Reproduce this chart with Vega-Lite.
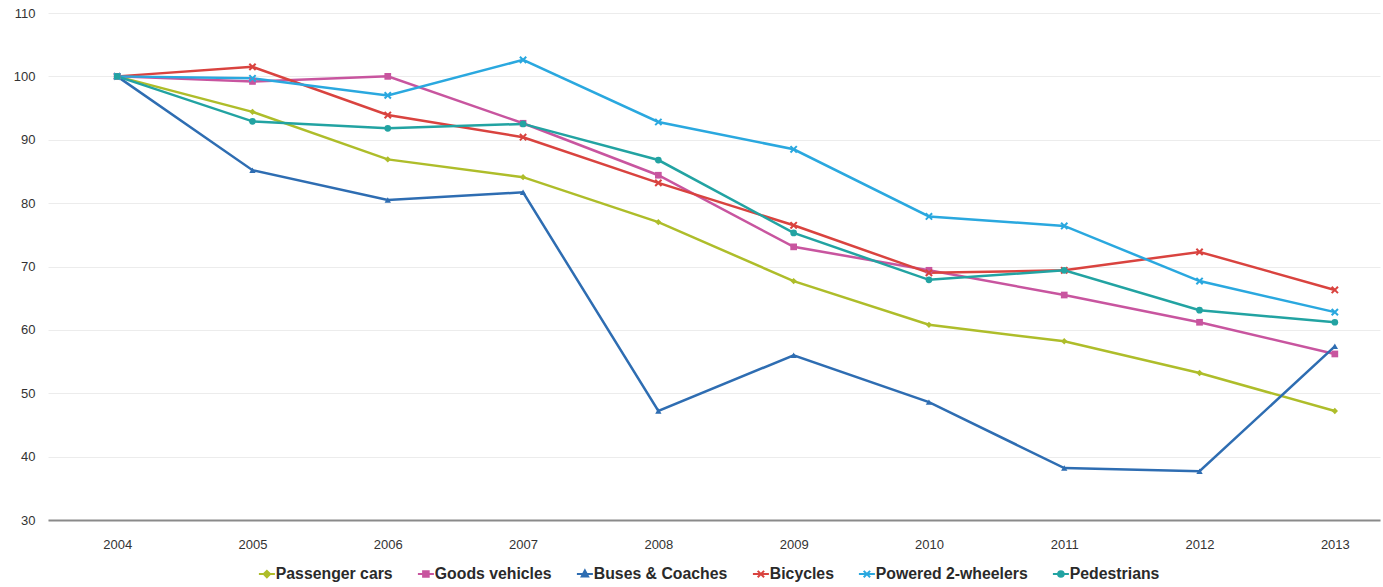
{
  "$schema": "https://vega.github.io/schema/vega-lite/v6.json",
  "autosize": {"type": "none"},
  "width": 1332,
  "height": 507,
  "padding": {"left": 48, "top": 13, "right": 3, "bottom": 67},
  "background": "white",
  "config": {
    "font": "Liberation Sans",
    "view": {"stroke": null},
    "axis": {"labelFont": "Liberation Sans", "labelFontSize": 13, "labelColor": "#333333", "ticks": false, "title": null},
    "legend": {"labelFont": "Liberation Sans", "labelFontSize": 15.8, "labelFontWeight": "bold", "labelColor": "#2a2a2a"}
  },
  "data": {
    "values": [
      {"year": "2004", "series": "Passenger cars", "value": 100},
      {"year": "2005", "series": "Passenger cars", "value": 94.4},
      {"year": "2006", "series": "Passenger cars", "value": 86.9},
      {"year": "2007", "series": "Passenger cars", "value": 84.1},
      {"year": "2008", "series": "Passenger cars", "value": 77.0},
      {"year": "2009", "series": "Passenger cars", "value": 67.7},
      {"year": "2010", "series": "Passenger cars", "value": 60.8},
      {"year": "2011", "series": "Passenger cars", "value": 58.2},
      {"year": "2012", "series": "Passenger cars", "value": 53.2},
      {"year": "2013", "series": "Passenger cars", "value": 47.2},
      {"year": "2004", "series": "Goods vehicles", "value": 100},
      {"year": "2005", "series": "Goods vehicles", "value": 99.2},
      {"year": "2006", "series": "Goods vehicles", "value": 100},
      {"year": "2007", "series": "Goods vehicles", "value": 92.6},
      {"year": "2008", "series": "Goods vehicles", "value": 84.4},
      {"year": "2009", "series": "Goods vehicles", "value": 73.1},
      {"year": "2010", "series": "Goods vehicles", "value": 69.4},
      {"year": "2011", "series": "Goods vehicles", "value": 65.5},
      {"year": "2012", "series": "Goods vehicles", "value": 61.2},
      {"year": "2013", "series": "Goods vehicles", "value": 56.2},
      {"year": "2004", "series": "Buses & Coaches", "value": 100},
      {"year": "2005", "series": "Buses & Coaches", "value": 85.2},
      {"year": "2006", "series": "Buses & Coaches", "value": 80.5},
      {"year": "2007", "series": "Buses & Coaches", "value": 81.7},
      {"year": "2008", "series": "Buses & Coaches", "value": 47.2},
      {"year": "2009", "series": "Buses & Coaches", "value": 56.0},
      {"year": "2010", "series": "Buses & Coaches", "value": 48.6},
      {"year": "2011", "series": "Buses & Coaches", "value": 38.2},
      {"year": "2012", "series": "Buses & Coaches", "value": 37.7},
      {"year": "2013", "series": "Buses & Coaches", "value": 57.4},
      {"year": "2004", "series": "Bicycles", "value": 100},
      {"year": "2005", "series": "Bicycles", "value": 101.5},
      {"year": "2006", "series": "Bicycles", "value": 93.9},
      {"year": "2007", "series": "Bicycles", "value": 90.4},
      {"year": "2008", "series": "Bicycles", "value": 83.2},
      {"year": "2009", "series": "Bicycles", "value": 76.5},
      {"year": "2010", "series": "Bicycles", "value": 69.0},
      {"year": "2011", "series": "Bicycles", "value": 69.4},
      {"year": "2012", "series": "Bicycles", "value": 72.3},
      {"year": "2013", "series": "Bicycles", "value": 66.3},
      {"year": "2004", "series": "Powered 2-wheelers", "value": 100},
      {"year": "2005", "series": "Powered 2-wheelers", "value": 99.7},
      {"year": "2006", "series": "Powered 2-wheelers", "value": 97.0},
      {"year": "2007", "series": "Powered 2-wheelers", "value": 102.6},
      {"year": "2008", "series": "Powered 2-wheelers", "value": 92.8},
      {"year": "2009", "series": "Powered 2-wheelers", "value": 88.5},
      {"year": "2010", "series": "Powered 2-wheelers", "value": 77.9},
      {"year": "2011", "series": "Powered 2-wheelers", "value": 76.4},
      {"year": "2012", "series": "Powered 2-wheelers", "value": 67.7},
      {"year": "2013", "series": "Powered 2-wheelers", "value": 62.8},
      {"year": "2004", "series": "Pedestrians", "value": 100},
      {"year": "2005", "series": "Pedestrians", "value": 92.9},
      {"year": "2006", "series": "Pedestrians", "value": 91.8},
      {"year": "2007", "series": "Pedestrians", "value": 92.5},
      {"year": "2008", "series": "Pedestrians", "value": 86.8},
      {"year": "2009", "series": "Pedestrians", "value": 75.3},
      {"year": "2010", "series": "Pedestrians", "value": 67.9},
      {"year": "2011", "series": "Pedestrians", "value": 69.4},
      {"year": "2012", "series": "Pedestrians", "value": 63.1},
      {"year": "2013", "series": "Pedestrians", "value": 61.2}
    ]
  },
  "encoding": {
    "x": {
      "field": "year", "type": "ordinal",
      "scale": {"type": "point", "padding": 0.4226, "align": 0.605},
      "axis": {"labelAngle": 0, "labelPadding": 18, "grid": false, "domain": true, "domainColor": "#8a8a8a", "domainWidth": 2}
    },
    "y": {
      "field": "value", "type": "quantitative",
      "scale": {"domain": [30, 110], "nice": false, "zero": false},
      "axis": {"values": [30, 40, 50, 60, 70, 80, 90, 100, 110], "labelPadding": 13, "domain": false, "grid": true, "gridColor": "#ececec", "gridWidth": 1}
    },
    "color": {
      "field": "series", "type": "nominal",
      "scale": {
        "domain": ["Passenger cars", "Goods vehicles", "Buses & Coaches", "Bicycles", "Powered 2-wheelers", "Pedestrians"],
        "range": ["#aebd2a", "#c8559f", "#2e6db2", "#d9433f", "#2aa8df", "#22a3a2"]
      },
      "legend": {
        "orient": "none", "direction": "horizontal", "columns": 6, "title": null,
        "legendX": 211, "legendY": 553, "padding": 0,
        "symbolSize": 64, "symbolOpacity": 1, "symbolStrokeWidth": 2,
        "labelOffset": 1, "columnPadding": 20,
        "encode": {
          "symbols": {
            "update": {
              "fill": {"scale": "color", "field": "value"},
              "stroke": {"scale": "color", "field": "value"},
              "strokeWidth": {"value": 2},
              "opacity": {"value": 1}
            }
          }
        }
      }
    }
  },
  "layer": [
    {
      "mark": {"type": "line", "strokeWidth": 2.5}
    },
    {
      "transform": [{"filter": "datum.series === 'Passenger cars'"}],
      "mark": {"type": "point", "shape": "diamond", "filled": true, "opacity": 1, "size": 40}
    },
    {
      "transform": [{"filter": "datum.series === 'Goods vehicles'"}],
      "mark": {"type": "point", "shape": "square", "filled": true, "opacity": 1, "size": 45}
    },
    {
      "transform": [{"filter": "datum.series === 'Buses & Coaches'"}],
      "mark": {"type": "point", "shape": "triangle-up", "filled": true, "opacity": 1, "size": 40}
    },
    {
      "transform": [{"filter": "datum.series === 'Bicycles' || datum.series === 'Powered 2-wheelers'"}],
      "mark": {"type": "point", "shape": "M-1,-1L1,1M-1,1L1,-1", "filled": false, "opacity": 1, "size": 40, "strokeWidth": 2}
    },
    {
      "transform": [{"filter": "datum.series === 'Pedestrians'"}],
      "mark": {"type": "point", "shape": "circle", "filled": true, "opacity": 1, "size": 45}
    },
    {
      "mark": {"type": "point", "filled": true, "opacity": 0, "size": 64},
      "encoding": {
        "shape": {
          "field": "series", "type": "nominal",
          "scale": {
            "domain": ["Passenger cars", "Goods vehicles", "Buses & Coaches", "Bicycles", "Powered 2-wheelers", "Pedestrians"],
            "range": [
              "M-2,0H2M0,-0.8L0.8,0L0,0.8L-0.8,0Z",
              "M-2,0H2M-0.7,-0.7H0.7V0.7H-0.7Z",
              "M-2,0H2M0,-0.9L0.8,0.6H-0.8Z",
              "M-2,0H2M-0.8,-0.8L0.8,0.8M-0.8,0.8L0.8,-0.8",
              "M-2,0H2M-0.8,-0.8L0.8,0.8M-0.8,0.8L0.8,-0.8",
              "M-2,0H2M-0.7,0A0.7,0.7 0 1,0 0.7,0A0.7,0.7 0 1,0 -0.7,0Z"
            ]
          },
          "legend": {
            "orient": "none", "direction": "horizontal", "columns": 6, "title": null,
            "legendX": 211, "legendY": 553, "padding": 0,
            "symbolSize": 64, "symbolOpacity": 1, "symbolStrokeWidth": 2,
            "labelOffset": 1, "columnPadding": 20
          }
        }
      }
    }
  ]
}
